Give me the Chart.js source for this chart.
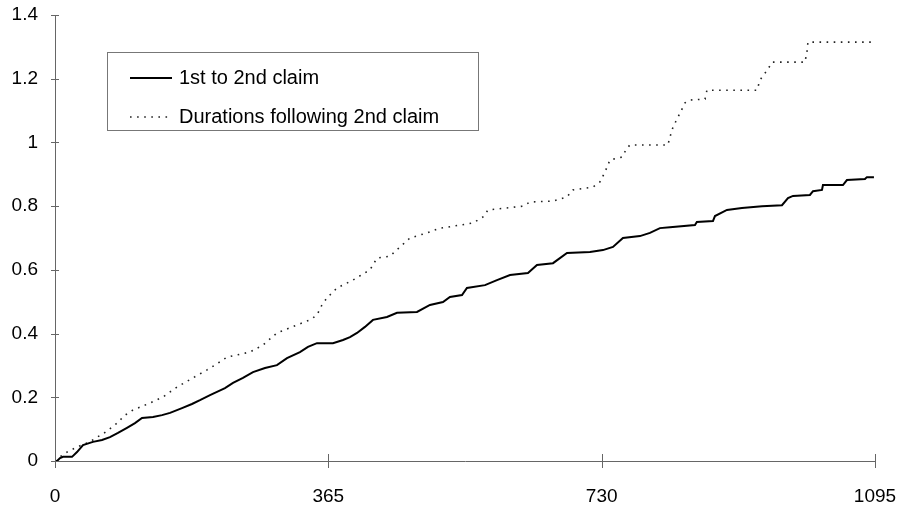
<!DOCTYPE html>
<html>
<head>
<meta charset="utf-8">
<script src="https://cdn.jsdelivr.net/npm/chart.js@4"></script>
<style>
  html, body { margin: 0; padding: 0; background: #fff; }
  #myChart { display: block; }
</style>
</head>
<body>
<canvas id="myChart" width="906" height="509"></canvas>
<script>
// cumulative curves, days since claim vs. value
const firstDays = [0, 2.7, 6.7, 10.7, 22.7, 29.4, 37.4, 50.7, 62.8, 73.4, 84.1, 96.1, 106.8, 116.2, 130.9, 142.9,
    153.6, 169.6, 182.9, 193.6, 207, 216.3, 227, 237.7, 251, 264.4, 280.4, 296.4, 309.8, 327.1, 337.8, 349.8,
    371.2, 384.6, 393.9, 403.3, 413.9, 424.6, 443.3, 456.7, 483.4, 500.7, 518.1, 527.4, 543.5, 550.1, 574.2,
    590.2, 607.6, 631.6, 643.6, 665, 683.7, 714.4, 731.7, 745.1, 758.4, 781.1, 794.5, 807.8, 821.2, 854.6,
    857.1, 878.6, 881.3, 897.3, 917.3, 944.1, 970.8, 978.8, 985.5, 1008.1, 1012.2, 1024.2, 1025.5, 1052.2,
    1057.5, 1081.6, 1084.2, 1093.6];
const firstValues = [0, 0, 0.009, 0.013, 0.013, 0.028, 0.050, 0.060, 0.066, 0.075, 0.088, 0.104, 0.119, 0.135, 0.138, 0.144,
    0.151, 0.166, 0.179, 0.191, 0.207, 0.217, 0.229, 0.245, 0.261, 0.279, 0.292, 0.301, 0.323, 0.342, 0.358, 0.370,
    0.370, 0.380, 0.389, 0.402, 0.421, 0.443, 0.452, 0.465, 0.468, 0.490, 0.499, 0.515, 0.521, 0.543, 0.552,
    0.568, 0.584, 0.590, 0.615, 0.621, 0.653, 0.656, 0.662, 0.672, 0.700, 0.706, 0.716, 0.731, 0.734, 0.741,
    0.750, 0.753, 0.769, 0.788, 0.794, 0.800, 0.803, 0.825, 0.832, 0.835, 0.847, 0.851, 0.866, 0.866,
    0.882, 0.885, 0.891, 0.891];

const laterDays = [0, 6.7, 16.0, 29.4, 46.7, 56.1, 64.1, 80.1, 93.5, 104.2, 126.9, 144.2, 162.9, 184.3, 203.0, 213.6,
    229.7, 243.0, 260.4, 277.7, 296.4, 323.1, 340.5, 349.8, 356.5, 363.2, 376.6, 397.9, 420.6, 430.0, 447.3,
    460.7, 474.0, 496.7, 514.1, 523.4, 558.1, 571.5, 578.2, 624.9, 634.3, 665.0, 683.7, 691.7, 718.4, 727.7,
    734.4, 741.1, 757.1, 763.8, 767.8, 818.5, 821.2, 825.2, 834.6, 841.3, 848.0, 868.0, 870.6, 937.4, 941.4,
    952.1, 957.4, 1001.5, 1004.1, 1005.5, 1090.9];
const laterValues = [0, 0.013, 0.028, 0.044, 0.060, 0.075, 0.085, 0.113, 0.144, 0.160, 0.182, 0.201, 0.232, 0.261, 0.286, 0.301,
    0.326, 0.333, 0.342, 0.364, 0.402, 0.427, 0.443, 0.458, 0.490, 0.512, 0.543, 0.568, 0.600, 0.637, 0.643,
    0.672, 0.700, 0.716, 0.731, 0.734, 0.747, 0.766, 0.788, 0.800, 0.813, 0.816, 0.829, 0.851, 0.860, 0.876,
    0.907, 0.945, 0.954, 0.982, 0.992, 0.992, 1.017, 1.048, 1.092, 1.124, 1.133, 1.136, 1.164, 1.164, 1.196,
    1.230, 1.252, 1.252, 1.284, 1.315, 1.315];

const seriesNames = ['1st to 2nd claim', 'Durations following 2nd claim'];
const xTicks = [0, 365, 730, 1095];
const yTicks = [0, 0.2, 0.4, 0.6, 0.8, 1, 1.2, 1.4];

const FONT = '"Liberation Sans", Arial, sans-serif';
const AXIS_COLOR = '#666';

function toPoints(xs, ys) {
    return xs.map((x, i) => ({ x: x, y: ys[i] }));
}

// tick marks crossing the axis lines
const crossTicks = {
    id: 'crossTicks',
    afterDraw(chart) {
        const ctx = chart.ctx;
        const xs = chart.scales.x, ys = chart.scales.y;
        const area = chart.chartArea;
        ctx.save();
        ctx.strokeStyle = AXIS_COLOR;
        ctx.lineWidth = 1;
        ctx.beginPath();
        xTicks.forEach(v => {
            const px = Math.round(xs.getPixelForValue(v)) + 0.5;
            ctx.moveTo(px, area.bottom - 7);
            ctx.lineTo(px, area.bottom + 7);
        });
        yTicks.forEach(v => {
            const py = Math.round(ys.getPixelForValue(v)) + 0.5;
            ctx.moveTo(area.left - 4, py);
            ctx.lineTo(area.left + 4, py);
        });
        ctx.stroke();
        ctx.restore();
    }
};

// boxed legend sitting inside the plot
const boxLegend = {
    id: 'boxLegend',
    afterDraw(chart) {
        const ctx = chart.ctx;
        const left = 107, top = 52, right = 478, bottom = 130;
        ctx.save();
        ctx.fillStyle = '#fff';
        ctx.fillRect(left, top, right - left, bottom - top);
        ctx.strokeStyle = '#777';
        ctx.lineWidth = 1;
        ctx.strokeRect(left + 0.5, top + 0.5, right - left, bottom - top);
        ctx.font = '20px ' + FONT;
        ctx.textBaseline = 'middle';
        ctx.fillStyle = '#000';
        chart.data.datasets.forEach((ds, i) => {
            const y = 78 + i * 39;
            ctx.strokeStyle = ds.borderColor;
            ctx.lineWidth = ds.borderWidth;
            ctx.setLineDash(ds.borderDash || []);
            ctx.beginPath();
            ctx.moveTo(130, y);
            ctx.lineTo(172, y);
            ctx.stroke();
            ctx.setLineDash([]);
            ctx.fillText(ds.label, 179, y);
        });
        ctx.restore();
    }
};

const data = {
    datasets: [{
        label: seriesNames[0],
        data: toPoints(firstDays, firstValues),
        borderColor: '#000',
        borderWidth: 2,
        pointRadius: 0,
        fill: false
    }, {
        label: seriesNames[1],
        data: toPoints(laterDays, laterValues),
        borderColor: '#222',
        borderWidth: 1.6,
        borderDash: [1.6, 5.5],
        pointRadius: 0,
        fill: false
    }]
};

const config = {
    type: 'line',
    data: data,
    options: {
        responsive: false,
        animation: false,
        layout: {
            padding: { top: 15, right: 31, left: 0, bottom: 0 }
        },
        plugins: {
            legend: { display: false },
            tooltip: { enabled: false }
        },
        scales: {
            x: {
                type: 'linear',
                min: 0,
                max: 1095,
                afterBuildTicks: scale => { scale.ticks = xTicks.map(v => ({ value: v })); },
                afterFit: scale => {
                    scale.height = 48;
                    scale.paddingLeft = 0;
                    scale.paddingRight = 0;
                },
                grid: { display: false, drawTicks: false },
                border: { display: true, color: AXIS_COLOR, width: 1 },
                ticks: {
                    color: '#000',
                    padding: 24,
                    maxRotation: 0,
                    font: { family: FONT, size: 19 },
                    callback: v => String(v)
                }
            },
            y: {
                min: 0,
                max: 1.4,
                afterBuildTicks: scale => { scale.ticks = yTicks.map(v => ({ value: v })); },
                afterFit: scale => {
                    scale.width = 55;
                    scale.paddingTop = 0;
                    scale.paddingBottom = 0;
                },
                grid: { display: false, drawTicks: false },
                border: { display: true, color: AXIS_COLOR, width: 1 },
                ticks: {
                    color: '#000',
                    padding: 17,
                    font: { family: FONT, size: 19 },
                    callback: v => String(Math.round(v * 10) / 10)
                }
            }
        }
    },
    plugins: [crossTicks, boxLegend]
};

var myChart = new Chart(
    document.getElementById('myChart'),
    config
);
</script>
</body>
</html>
